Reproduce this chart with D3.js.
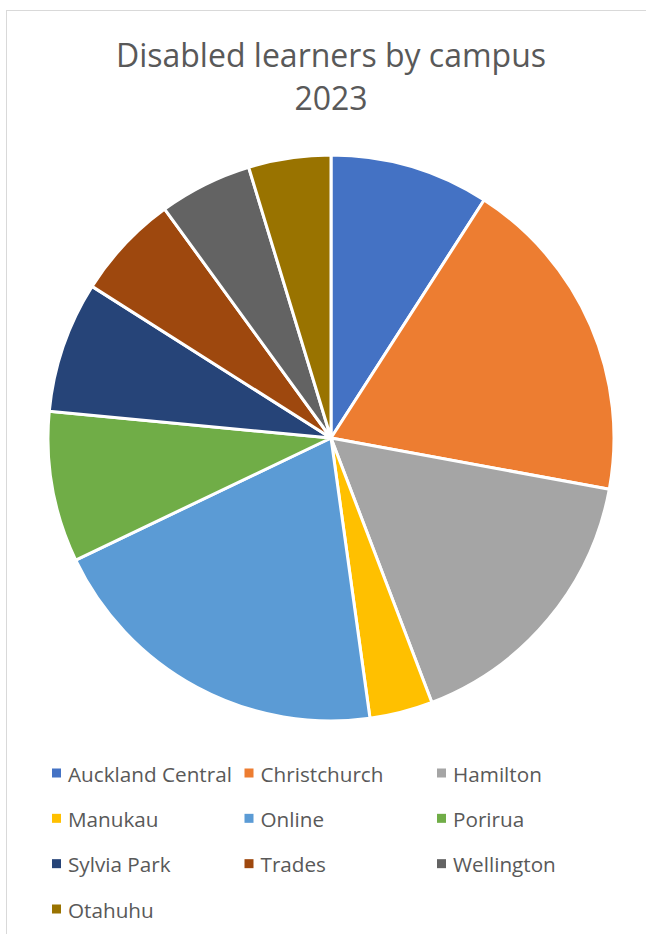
<!DOCTYPE html>
<html>
<head>
<meta charset="utf-8">
<script src="https://cdn.jsdelivr.net/npm/d3@7"></script>
<style>
  body { margin: 0; background: #fff; }
  text { font-family: "Open Sans", Lato, sans-serif; fill: #595959; }
</style>
</head>
<body>
<div id="chart"></div>
<script>
// campuses and their share of disabled learners
var campuses = ["Auckland Central", "Christchurch", "Hamilton", "Manukau", "Online",
                "Porirua", "Sylvia Park", "Trades", "Wellington", "Otahuhu"];
var learners = [9.1, 18.8, 16.3, 3.6, 20.1, 8.6, 7.5, 6.0, 5.3, 4.7];
var colours = ["#4472c4", "#ed7d31", "#a5a5a5", "#ffc000", "#5b9bd5",
               "#70ad47", "#264478", "#9e480e", "#636363", "#997300"];

var width = 646, height = 934;

var svg = d3.select("#chart")
  .append("svg")
    .attr("width", width)
    .attr("height", height);

// chart frame
svg.append("rect")
  .attr("x", 6.5).attr("y", 10.5)
  .attr("width", 660).attr("height", 940)
  .attr("fill", "none")
  .attr("stroke", "#d9d9d9");

// title
svg.append("text")
  .attr("x", 331).attr("y", 67)
  .attr("text-anchor", "middle")
  .style("font-size", "32px")
  .text("Disabled learners by campus");
svg.append("text")
  .attr("x", 331).attr("y", 110)
  .attr("text-anchor", "middle")
  .style("font-size", "32px")
  .text("2023");

var data = campuses.map(function(c, i) { return {name: c, value: learners[i], colour: colours[i]}; });

var pie = d3.pie().sort(null).value(function(d) { return d.value; });
var arc = d3.arc().innerRadius(0).outerRadius(283);

var g = svg.append("g")
  .attr("transform", "translate(331,438)");

g.selectAll("path")
  .data(pie(data))
  .enter()
  .append("path")
    .attr("d", arc)
    .attr("fill", function(d) { return d.data.colour; })
    .attr("stroke", "#fff")
    .attr("stroke-width", 3)
    .attr("stroke-linejoin", "round");

// legend, three columns
var colX = d3.scalePoint().domain([0, 1, 2]).range([52, 437]);
var rowY = d3.scalePoint().domain([0, 1, 2, 3]).range([773, 909]);

var item = svg.append("g").selectAll("g")
  .data(data)
  .enter()
  .append("g")
    .attr("transform", function(d, i) { return "translate(" + colX(i % 3) + "," + rowY(Math.floor(i / 3)) + ")"; });

item.append("rect")
  .attr("x", 0).attr("y", -4.5)
  .attr("width", 9).attr("height", 9)
  .attr("fill", function(d) { return d.colour; });

item.append("text")
  .attr("x", 16).attr("y", 8.7)
  .style("font-size", "20.7px")
  .text(function(d) { return d.name; });
</script>
</body>
</html>
